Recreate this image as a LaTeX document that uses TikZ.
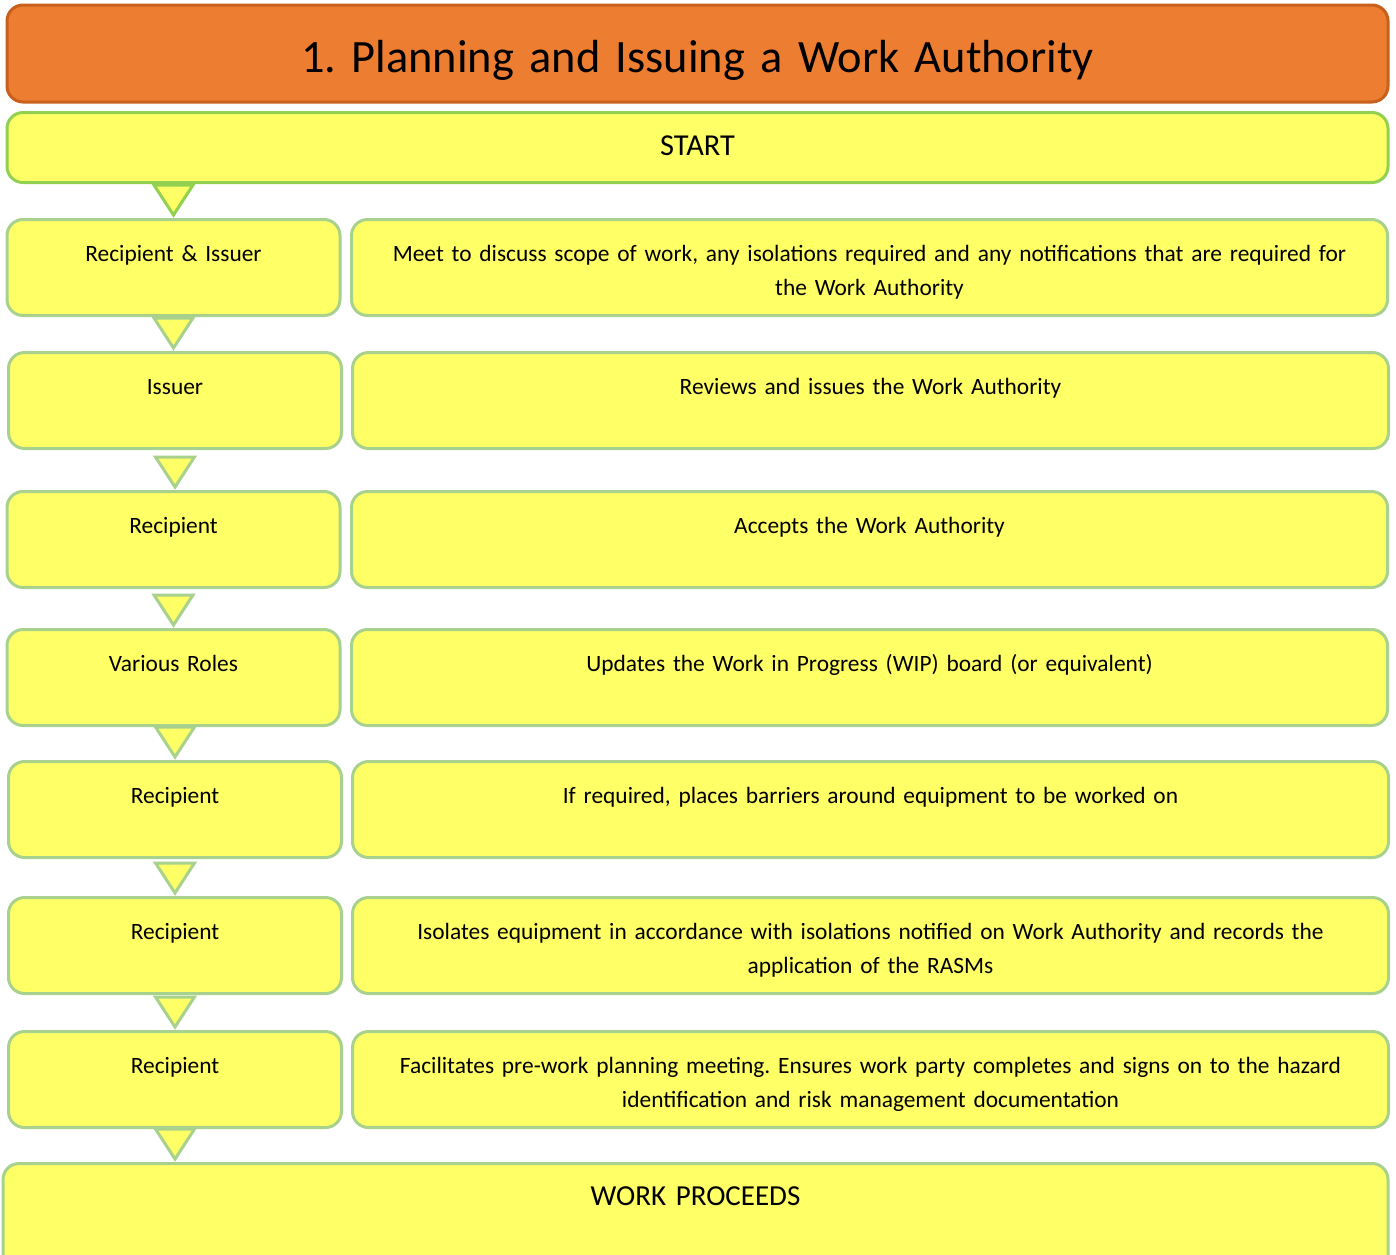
\documentclass[tikz,border=0pt]{standalone}
\usepackage{fontspec}
\setmainfont{Carlito}
\frenchspacing
\usetikzlibrary{positioning}
\definecolor{headFill}{RGB}{237,125,49}
\definecolor{headLine}{RGB}{200,96,28}
\definecolor{boxFill}{RGB}{255,255,102}
\definecolor{startLine}{RGB}{146,208,80}
\definecolor{softLine}{RGB}{169,209,142}
\tikzset{
  headbox/.style={draw=headLine, fill=headFill, line width=1.5pt, rounded corners=8pt,
    text width=690.5pt, align=center, inner sep=0pt, text height=33.5pt, text depth=15pt,
    font=\fontsize{23.2}{28}\selectfont},
  rowbox/.style={draw=softLine, fill=boxFill, line width=1.5pt, rounded corners=8pt,
    anchor=north, align=center, inner xsep=0pt, inner ysep=0pt,
    text height=20.8pt, text depth=27.2pt, font=\fontsize{11.7}{17}\selectfont},
  rolebox/.style={rowbox, text width=166.5pt},
  taskbox/.style={rowbox, text width=518pt},
  tri/.style={fill=boxFill, line width=1.5pt, line join=miter}
}
\begin{document}
\begin{tikzpicture}[x=0.5pt,y=-0.5pt]
\useasboundingbox (0,0) rectangle (1396,1254);

\node[headbox] (title) at (697.5,53.5) {1. Planning and Issuing a Work Authority};
\node[rowbox, draw=startLine, text width=690.5pt, text height=21.5pt, text depth=13.5pt,
  font=\fontsize{15.2}{18}\selectfont] (start) at (697.5,111) {START};

% roles and tasks
\node[rolebox] (role1) at (173.5,218) {Recipient \& Issuer};
\node[taskbox] (task1) at (869.5,218) {Meet to discuss scope of work, any isolations required and any notifications that are required for\\the Work Authority};
\node[rolebox] (role2) at (175,351) {Issuer};
\node[taskbox] (task2) at (870.5,351) {Reviews and issues the Work Authority};
\node[rolebox] (role3) at (173.5,490) {Recipient};
\node[taskbox] (task3) at (869.5,490) {Accepts the Work Authority};
\node[rolebox] (role4) at (173.5,628) {Various Roles};
\node[taskbox] (task4) at (869.5,628) {Updates the Work in Progress (WIP) board (or equivalent)};
\node[rolebox] (role5) at (175,760) {Recipient};
\node[taskbox] (task5) at (870.5,760) {If required, places barriers around equipment to be worked on};
\node[rolebox] (role6) at (175,896) {Recipient};
\node[taskbox] (task6) at (870.5,896) {Isolates equipment in accordance with isolations notified on Work Authority and records the\\application of the RASMs};
\node[rolebox] (role7) at (175,1030) {Recipient};
\node[taskbox] (task7) at (870.5,1030) {Facilitates pre-work planning meeting. Ensures work party completes and signs on to the hazard\\identification and risk management documentation};

\node[rowbox, text width=692.5pt, text depth=34pt, font=\fontsize{14.5}{17}\selectfont]
  (proceeds) at (695.5,1162) {WORK PROCEEDS};

% down triangles
\foreach \xs/\dn/\col in {role1/role1/startLine, role1/role2/softLine, role2/role3/softLine,
    role3/role4/softLine, role5/role5/softLine, role6/role6/softLine, role7/role7/softLine,
    role7/proceeds/softLine}
  \draw[tri, draw=\col] (\dn.north -| \xs.south) ++(0,-3) -- ++(-19.5,-30) -- ++(39,0) -- cycle;
\end{tikzpicture}
\end{document}
